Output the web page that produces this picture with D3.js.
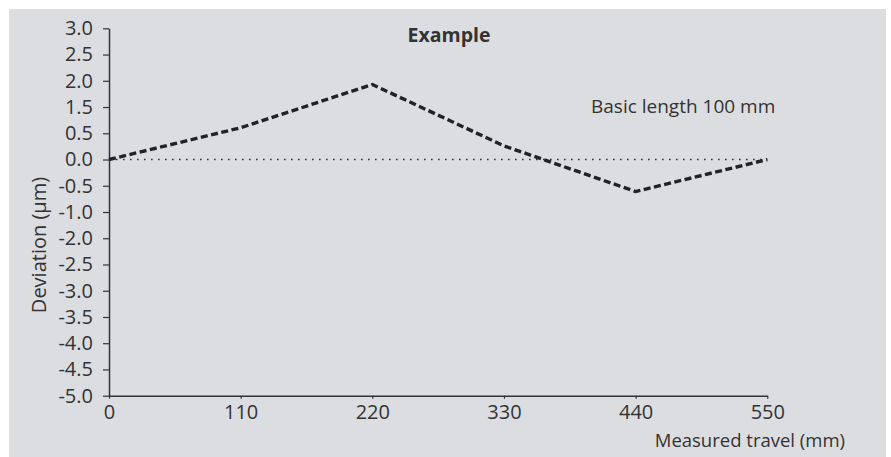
<!DOCTYPE html>
<html>
<head>
<meta charset="utf-8">
<script src="https://cdn.jsdelivr.net/npm/d3@7"></script>
<style>
  html, body { margin: 0; padding: 0; background: #ffffff; }
  svg { display: block; }
  text { font-family: "Open Sans", "Noto Sans", sans-serif; fill: #333333; }
</style>
</head>
<body>
<svg id="chart" width="891" height="457"></svg>
<script>
// Data
const travel = [0, 110, 220, 330, 440, 550];
const deviation = [0, 0.71, 1.93, 0.26, -0.61, 0];
const xTickLabels = [0, 110, 220, 330, 440, 550];
// Tick labels as printed on the original (note: 1.0 and -1.5 are absent, ticks evenly spaced)
const yTickLabels = [3.0, 2.5, 2.0, 1.5, 0.5, 0.0, -0.5, -1.0, -2.0, -2.5, -3.0, -3.5, -4.0, -4.5, -5.0];
const title = "Example";
const annotation = "Basic length 100 mm";
const xTitle = "Measured travel (mm)";
const yTitle = "Deviation (\u00b5m)";

const svg = d3.select("#chart");
const W = 891, H = 457;
const margin = { left: 109, top: 28.3, right: W - 767.3, bottom: H - 395.7 };
const innerW = W - margin.left - margin.right;
const innerH = H - margin.top - margin.bottom;

// background panel
svg.append("rect").attr("x", 9).attr("y", 9).attr("width", 877).attr("height", H - 9).attr("fill", "#dcdde0");

const x = d3.scaleLinear().domain([0, 550]).range([margin.left, margin.left + innerW]);
// piecewise-linear y scale: each printed tick label evenly spaced
const yRange = yTickLabels.map((d, i) => margin.top + i * innerH / (yTickLabels.length - 1));
const y = d3.scaleLinear().domain(yTickLabels).range(yRange);

// axes
const yAxis = d3.axisLeft(y).tickValues(yTickLabels).tickFormat(d => d.toFixed(1)).tickSize(6).tickSizeOuter(0).tickPadding(10);
const gy = svg.append("g").attr("transform", `translate(${margin.left},0)`).call(yAxis);
const xAxis = d3.axisBottom(x).tickValues(xTickLabels).tickFormat(d => String(d)).tickSize(3).tickSizeOuter(0).tickPadding(6);
const gx = svg.append("g").attr("transform", `translate(0,${margin.top + innerH})`).call(xAxis);

[gx, gy].forEach(g => {
  g.attr("font-size", null).attr("font-family", null);
  g.select(".domain").attr("stroke", "#333").attr("stroke-width", 1.5);
  g.selectAll(".tick line").attr("stroke", "#333").attr("stroke-width", 1.2);
  g.selectAll(".tick text").style("font-family", '"Open Sans", sans-serif').style("font-size", "20px").attr("fill", "#333");
});

// zero reference line (dotted)
svg.append("line")
  .attr("x1", x(0)).attr("x2", x(550))
  .attr("y1", y(0)).attr("y2", y(0))
  .attr("stroke", "#333").attr("stroke-width", 1.6).attr("stroke-dasharray", "1.6,5.4");

// data line (dashed)
const line = d3.line().x((d, i) => x(travel[i])).y(d => y(d));
svg.append("path")
  .attr("d", line(deviation))
  .attr("fill", "none").attr("stroke", "#222").attr("stroke-width", 3.4)
  .attr("stroke-dasharray", "7,3.5").attr("stroke-linejoin", "miter");

// texts
svg.append("text").attr("x", 449).attr("y", 42).attr("text-anchor", "middle")
  .style("font-size", "19.5px").style("font-weight", "bold").text(title);
svg.append("text").attr("x", 591).attr("y", 113)
  .style("font-size", "19px").text(annotation);
svg.append("text").attr("x", 845).attr("y", 447).attr("text-anchor", "end")
  .style("font-size", "18.5px").text(xTitle);
svg.append("text").attr("transform", "translate(46,245) rotate(-90)").attr("text-anchor", "middle")
  .style("font-size", "20px").text(yTitle);
</script>
</body>
</html>
